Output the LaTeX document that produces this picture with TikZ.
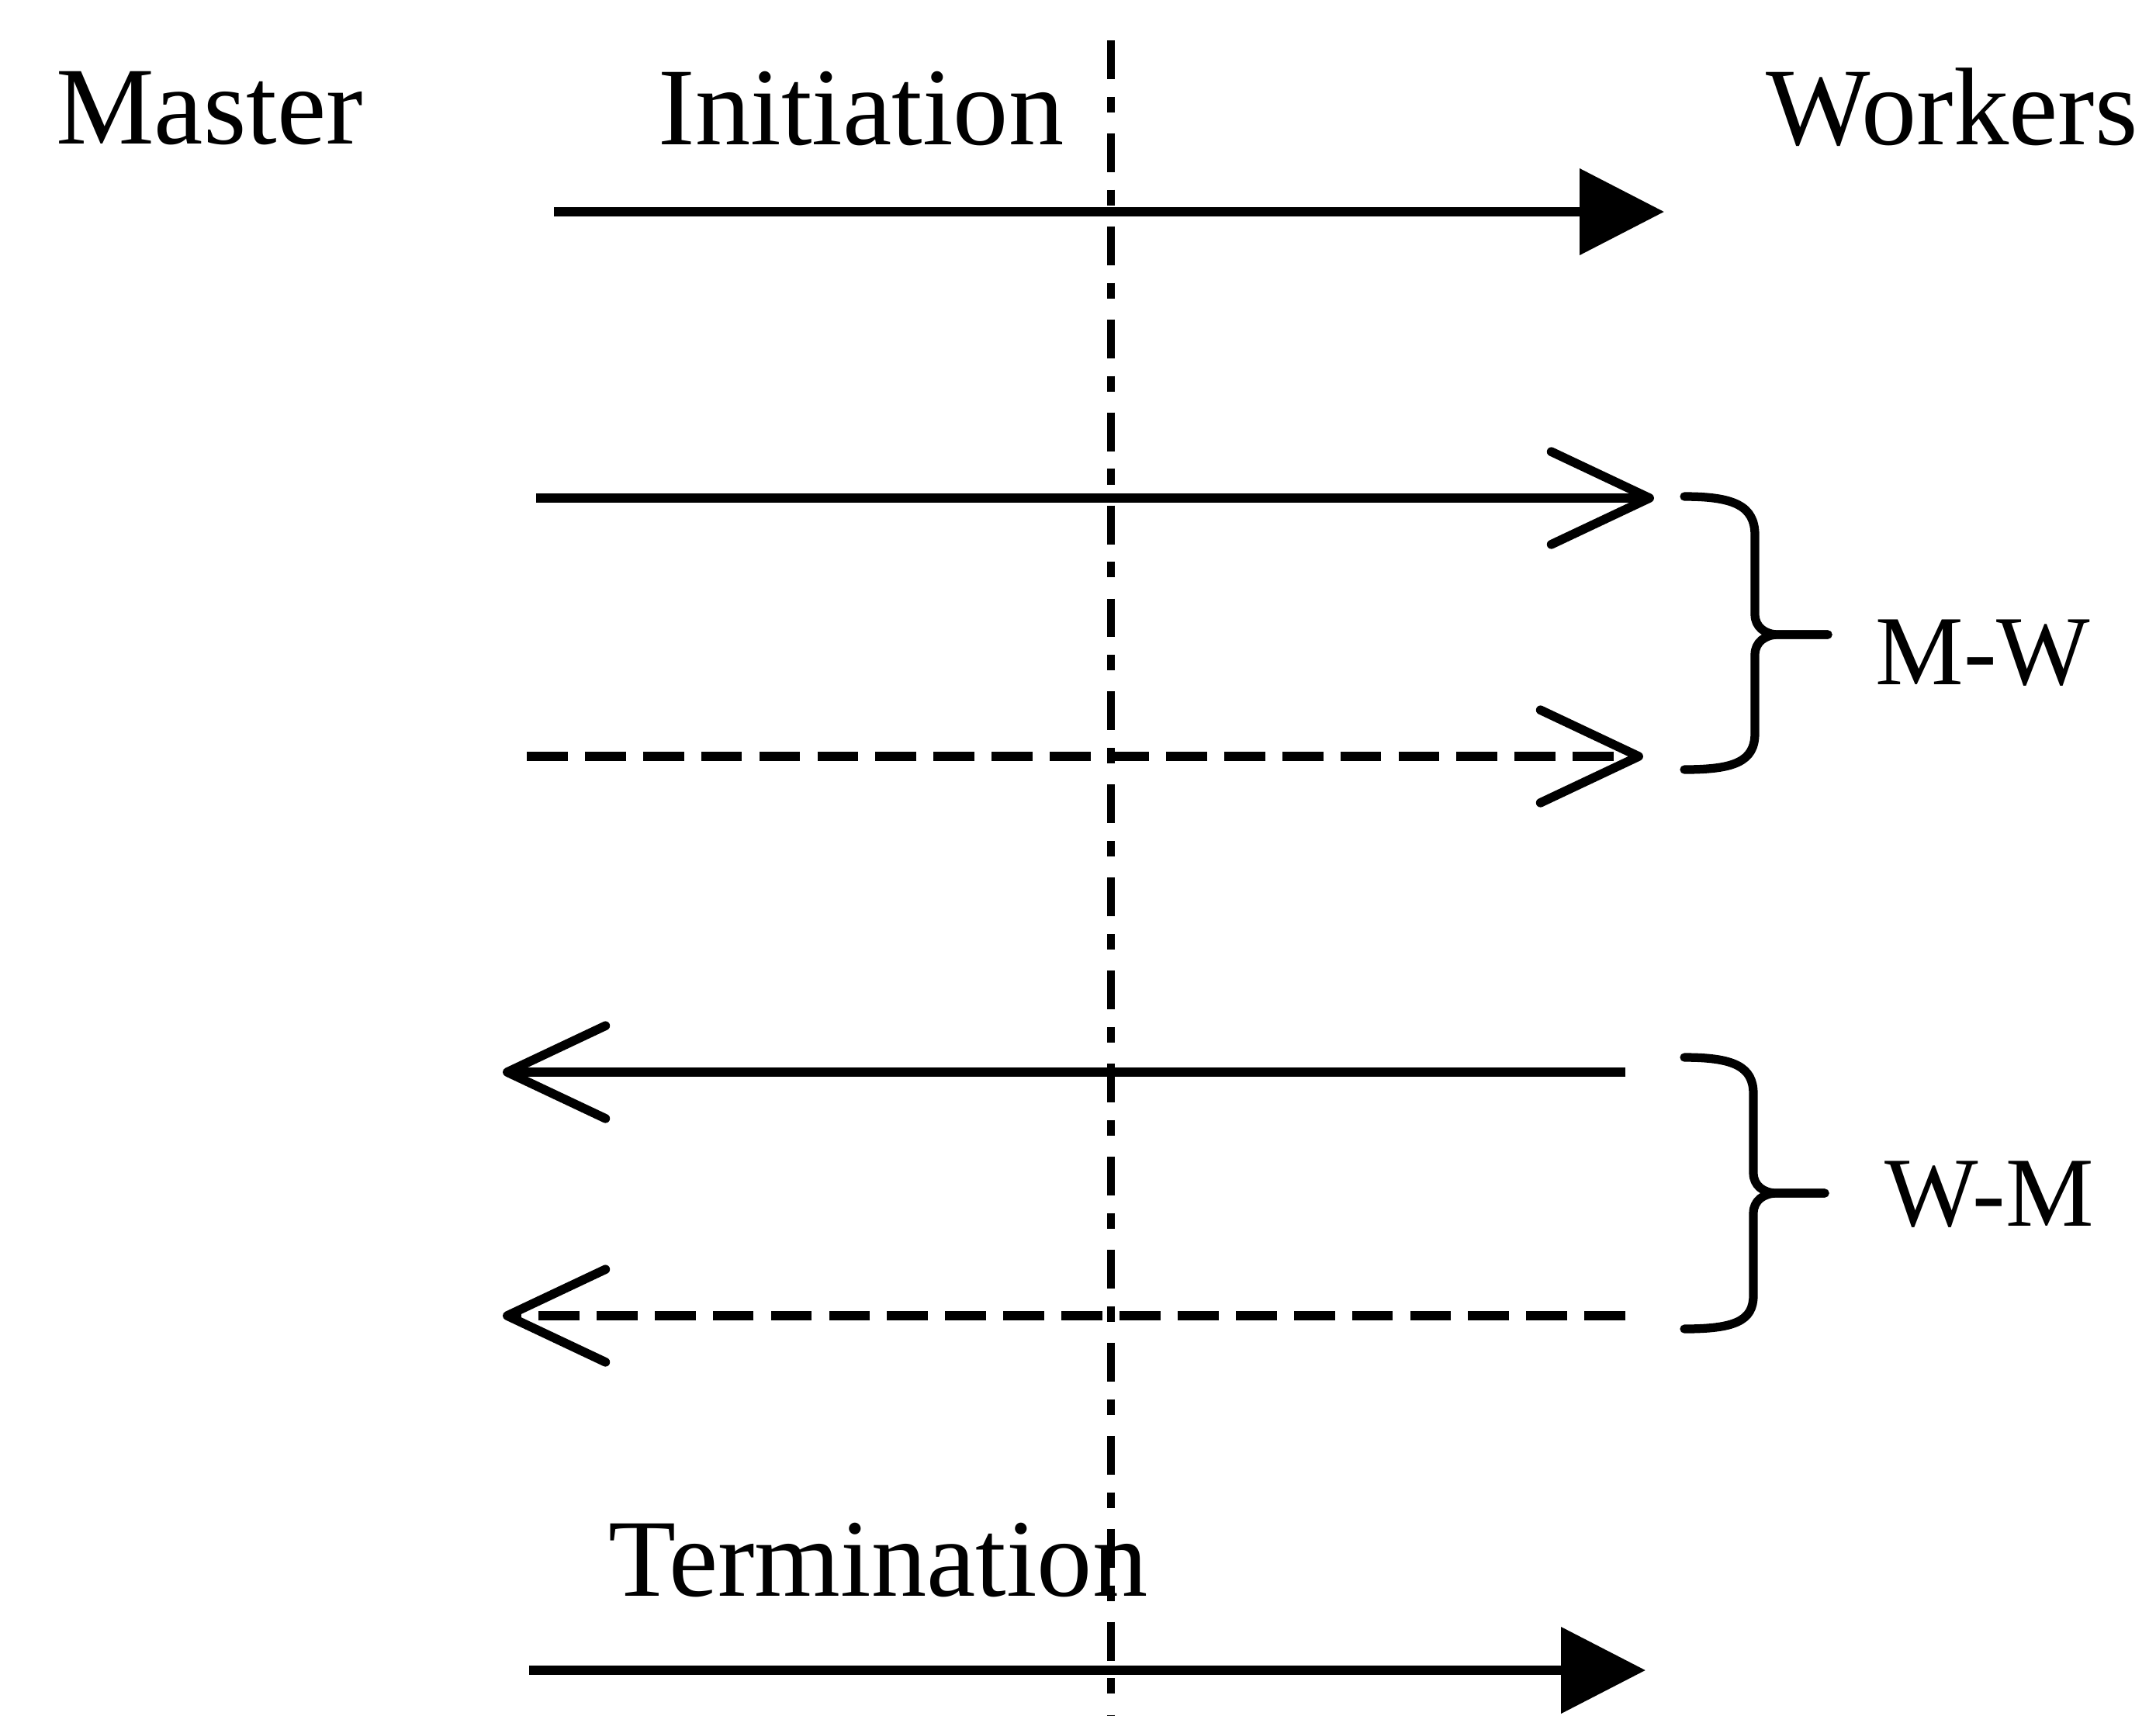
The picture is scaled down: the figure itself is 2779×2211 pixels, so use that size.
\documentclass[tikz,border=0pt]{standalone}
\usepackage{fontspec}
\setmainfont{Liberation Serif}
\usetikzlibrary{arrows.meta}
\begin{document}
\begin{tikzpicture}[x=0.01cm, y=-0.01cm,
  msg/.style={line width=3.3pt},
  filledhead/.style={-{Triangle[length=31pt,width=31pt]}},
  openhead/.style={-{Straight Barb[length=36pt,width=34pt,line width=3.3pt,round]}},
  dashedmsg/.style={dash pattern=on 15pt off 6.3pt},
  phase/.style={font=\fontsize{40.5}{48}\selectfont, inner sep=0pt, anchor=base},
  group/.style={font=\fontsize{36.3}{44}\selectfont, inner sep=0pt, anchor=base},
  bracebar/.style={line width=3.2pt, line cap=round, line join=round},
  divider/.style={line width=2.8pt, dash pattern=on 14.2pt off 6.5pt on 5.7pt off 7.7pt}
]
\useasboundingbox (0,0) rectangle (2779,2211);

% column and phase labels
\node[phase] (master) at (270,185) {Master};
\node[phase] (init) at (1110,186) {Initiation};
\node[phase] (workers) at (2516,186) {Workers};
\node[phase] (term) at (1132,2057) {Termination};

% message end points
\coordinate (a1s) at (714,273);  \coordinate (a1e) at (2145,273);
\coordinate (a2s) at (691,642);  \coordinate (a2e) at (2132,642);
\coordinate (a3s) at (679,975);  \coordinate (a3e) at (2118,975);
\coordinate (a4s) at (2095,1382); \coordinate (a4e) at (648,1382);
\coordinate (a5s) at (2095,1696); \coordinate (a5e) at (648,1696);
\coordinate (a6s) at (682,2153); \coordinate (a6e) at (2121,2153);

% messages
\draw[msg, filledhead] (a1s) -- (a1e);
\draw[msg, openhead] (a2s) -- (a2e);
\draw[msg, dashedmsg, openhead] (a3s) -- (a3e);
\draw[msg, openhead] (a4s) -- (a4e);
\draw[msg, dashedmsg, openhead] (a5s) -- (a5e);
\draw[msg, filledhead] (a6s) -- (a6e);

% divider between master and workers
\coordinate (dtop) at (1432,52);
\coordinate (dbot) at (1432,2211);
\draw[divider] (dtop) -- (dbot);

% brace grouping master-to-worker messages
\coordinate (mwtip) at (2356,818);
\draw[bracebar] (2171,640) .. controls (2235,640) and (2262,652) .. (2262,690)
  -- (2262,792) .. controls (2262,808) and (2275,818) .. (2292,818) -- (mwtip);
\draw[bracebar] (mwtip) -- (2292,818) .. controls (2275,818) and (2262,828) .. (2262,844)
  -- (2262,945) .. controls (2262,982) and (2235,992) .. (2171,992);
\node[group] (mw) at (2556,882) {M-W};

% brace grouping worker-to-master messages
\coordinate (wmtip) at (2352,1538);
\draw[bracebar] (2171,1363) .. controls (2235,1363) and (2260,1375) .. (2260,1410)
  -- (2260,1512) .. controls (2260,1528) and (2273,1538) .. (2290,1538) -- (wmtip);
\draw[bracebar] (wmtip) -- (2290,1538) .. controls (2273,1538) and (2260,1548) .. (2260,1564)
  -- (2260,1670) .. controls (2260,1703) and (2235,1713) .. (2171,1713);
\node[group] (wm) at (2564,1580) {W-M};
\end{tikzpicture}
\end{document}
